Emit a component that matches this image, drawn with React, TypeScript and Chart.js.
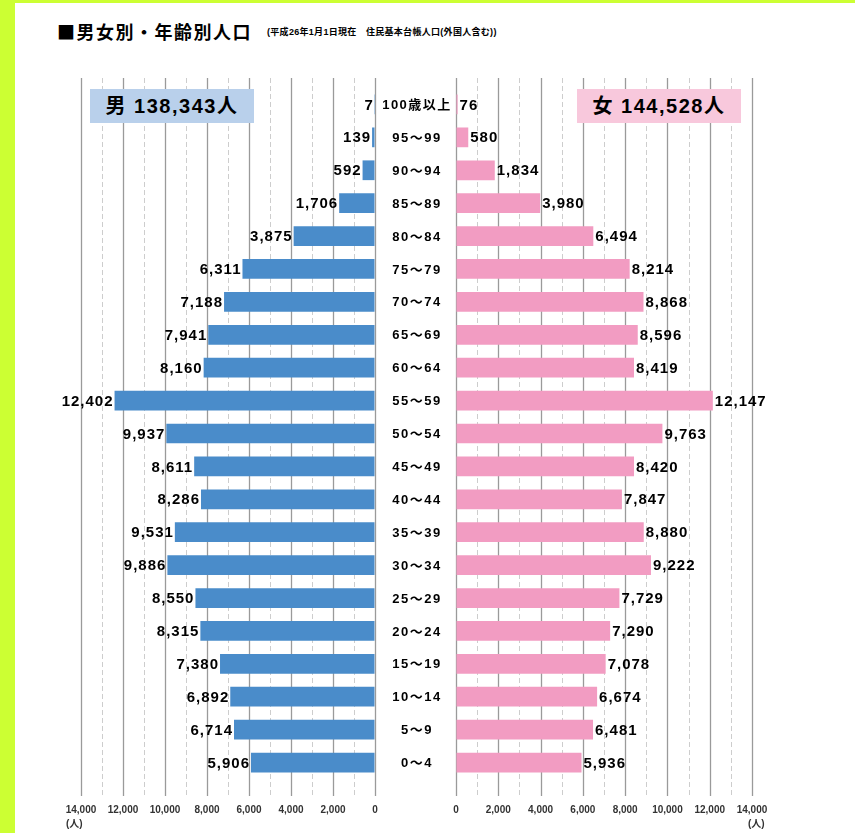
import React, { useEffect, useRef } from 'react';
import { Chart, registerables } from 'chart.js';

Chart.register(...registerables);

// ---- data ----
const AGE_LABELS = [
  '100歳以上', '95～99', '90～94', '85～89', '80～84', '75～79', '70～74',
  '65～69', '60～64', '55～59', '50～54', '45～49', '40～44', '35～39',
  '30～34', '25～29', '20～24', '15～19', '10～14', '5～9', '0～4',
];
const MALE = [
  7, 139, 592, 1706, 3875, 6311, 7188, 7941, 8160, 12402, 9937,
  8611, 8286, 9531, 9886, 8550, 8315, 7380, 6892, 6714, 5906,
];
const FEMALE = [
  76, 580, 1834, 3980, 6494, 8214, 8868, 8596, 8419, 12147, 9763,
  8420, 7847, 8880, 9222, 7729, 7290, 7078, 6674, 6481, 5936,
];
const AXIS_MAX = 14000;
const AXIS_STEP = 2000;
const MINOR_STEP = 1000;
const MALE_TOTAL_TEXT = '男 138,343人';
const FEMALE_TOTAL_TEXT = '女 144,528人';
const TITLE = '■男女別・年齢別人口';
const SUBTITLE = '(平成26年1月1日現在　住民基本台帳人口(外国人含む))';
const UNIT = '(人)';

const MALE_COLOR = '#4a8cca';
const FEMALE_COLOR = '#f29cc2';
const FONT = '"Liberation Sans", "Noto Sans CJK JP", sans-serif';
const CJK_FONT = '"Noto Sans CJK JP", "Liberation Sans", sans-serif';

const gridPlugin = {
  id: 'customGrid',
  beforeDatasetsDraw(chart: any) {
    const { ctx, chartArea, scales } = chart;
    const x = scales.x;
    ctx.save();
    for (let v = 0; v <= AXIS_MAX; v += MINOR_STEP) {
      const px = Math.round(x.getPixelForValue(v)) + 0.5;
      const major = v % AXIS_STEP === 0;
      ctx.beginPath();
      ctx.setLineDash(major ? [] : [5, 3]);
      ctx.strokeStyle = major ? '#9a9a9a' : '#cdcdcd';
      ctx.lineWidth = major ? 1.3 : 1;
      ctx.moveTo(px, chartArea.top - 10);
      ctx.lineTo(px, chartArea.bottom + 17);
      ctx.stroke();
    }
    ctx.restore();
  },
};

const valueLabelPlugin = {
  id: 'valueLabels',
  afterDatasetsDraw(chart: any, _args: any, opts: any) {
    const { ctx } = chart;
    const meta = chart.getDatasetMeta(0);
    const data = chart.data.datasets[0].data as number[];
    ctx.save();
    ctx.font = `bold 15px ${FONT}`;
    (ctx as any).letterSpacing = '1px';
    ctx.fillStyle = '#000';
    ctx.textBaseline = 'middle';
    meta.data.forEach((bar: any, i: number) => {
      const txt = data[i].toLocaleString('en-US');
      if (opts.side === 'left') {
        ctx.textAlign = 'right';
        ctx.fillText(txt, bar.x - 1, bar.y + 1);
      } else {
        ctx.textAlign = 'left';
        ctx.fillText(txt, bar.x + 2, bar.y + 1);
      }
    });
    ctx.restore();
  },
};

const ageLabelPlugin = {
  id: 'ageLabels',
  afterDatasetsDraw(chart: any, _args: any, opts: any) {
    if (!opts.show) return;
    const { ctx, chartArea, scales } = chart;
    const y = scales.y;
    ctx.save();
    ctx.font = `bold 13px ${FONT}`;
    (ctx as any).letterSpacing = '1.5px';
    ctx.fillStyle = '#000';
    ctx.textAlign = 'center';
    ctx.textBaseline = 'middle';
    AGE_LABELS.forEach((lab, i) => {
      ctx.fillText(lab, chartArea.left - 39, y.getPixelForValue(i) + 1);
    });
    ctx.restore();
  },
};

function makeConfig(values: number[], color: string, reverse: boolean, padding: any): any {
  return {
    type: 'bar',
    data: {
      labels: AGE_LABELS,
      datasets: [
        {
          data: values,
          backgroundColor: color,
          borderWidth: 0,
          barPercentage: 0.6,
          categoryPercentage: 1,
        },
      ],
    },
    options: {
      indexAxis: 'y',
      animation: false,
      responsive: false,
      maintainAspectRatio: false,
      layout: { padding },
      plugins: {
        legend: { display: false },
        tooltip: { enabled: false },
        valueLabels: { side: reverse ? 'left' : 'right' },
        ageLabels: { show: !reverse },
      },
      scales: {
        x: {
          reverse,
          min: 0,
          max: AXIS_MAX,
          ticks: {
            stepSize: AXIS_STEP,
            autoSkip: false,
            maxRotation: 0,
            padding: 8,
            color: '#333',
            font: { family: FONT, size: 10, weight: 'bold' },
            callback: (v: any) => Number(v).toLocaleString('en-US'),
          },
          grid: {
            display: true,
            drawOnChartArea: false,
            drawTicks: true,
            tickLength: 17,
            tickColor: 'rgba(0,0,0,0)',
          },
          border: { display: false },
        },
        y: { display: false },
      },
    },
    plugins: [gridPlugin, valueLabelPlugin, ageLabelPlugin],
  };
}

export default function App() {
  const maleRef = useRef<HTMLCanvasElement>(null);
  const femaleRef = useRef<HTMLCanvasElement>(null);

  useEffect(() => {
    const m = new Chart(
      maleRef.current!,
      makeConfig(MALE, MALE_COLOR, true, { left: 66, right: 20, top: 28, bottom: 9 })
    );
    const f = new Chart(
      femaleRef.current!,
      makeConfig(FEMALE, FEMALE_COLOR, false, { left: 80, right: 48, top: 28, bottom: 9 })
    );
    return () => {
      m.destroy();
      f.destroy();
    };
  }, []);

  const boxText: React.CSSProperties = {
    position: 'absolute',
    top: 89,
    width: 164,
    height: 34,
    lineHeight: '34px',
    textAlign: 'center',
    fontFamily: FONT,
    fontWeight: 'bold',
    fontSize: 20,
    letterSpacing: '1.5px',
    color: '#000',
    zIndex: 3,
  };

  return (
    <div
      style={{
        position: 'fixed',
        left: 0,
        top: 0,
        width: 855,
        height: 833,
        background: '#ccff33',
        overflow: 'hidden',
      }}
    >
      <div style={{ position: 'absolute', left: 15, top: 3, width: 840, height: 830, background: '#fff' }} />
      <div
        style={{
          position: 'absolute',
          left: 57,
          top: 20,
          fontFamily: CJK_FONT,
          fontWeight: 'bold',
          fontSize: 18,
          lineHeight: '22px',
          letterSpacing: '1.5px',
          color: '#000',
          whiteSpace: 'nowrap',
        }}
      >
        {TITLE}
      </div>
      <div
        style={{
          position: 'absolute',
          left: 267,
          top: 27,
          fontFamily: FONT,
          fontWeight: 'bold',
          fontSize: 9,
          lineHeight: '10px',
          letterSpacing: '0.3px',
          color: '#000',
          whiteSpace: 'nowrap',
        }}
      >
        {SUBTITLE}
      </div>
      <canvas ref={maleRef} width={380} height={773} style={{ position: 'absolute', left: 15, top: 60, zIndex: 1 }} />
      <canvas ref={femaleRef} width={424} height={773} style={{ position: 'absolute', left: 376, top: 60, zIndex: 1 }} />
      <div style={{ ...boxText, left: 90, background: '#b9d0eb' }}>{MALE_TOTAL_TEXT}</div>
      <div style={{ ...boxText, left: 577, background: '#f8c8dc' }}>{FEMALE_TOTAL_TEXT}</div>
      <div
        style={{
          position: 'absolute',
          left: 66,
          top: 815,
          fontFamily: FONT,
          fontWeight: 'bold',
          fontSize: 10,
          color: '#333',
          zIndex: 2,
        }}
      >
        {UNIT}
      </div>
      <div
        style={{
          position: 'absolute',
          left: 748,
          top: 815,
          fontFamily: FONT,
          fontWeight: 'bold',
          fontSize: 10,
          color: '#333',
          zIndex: 2,
        }}
      >
        {UNIT}
      </div>
    </div>
  );
}
